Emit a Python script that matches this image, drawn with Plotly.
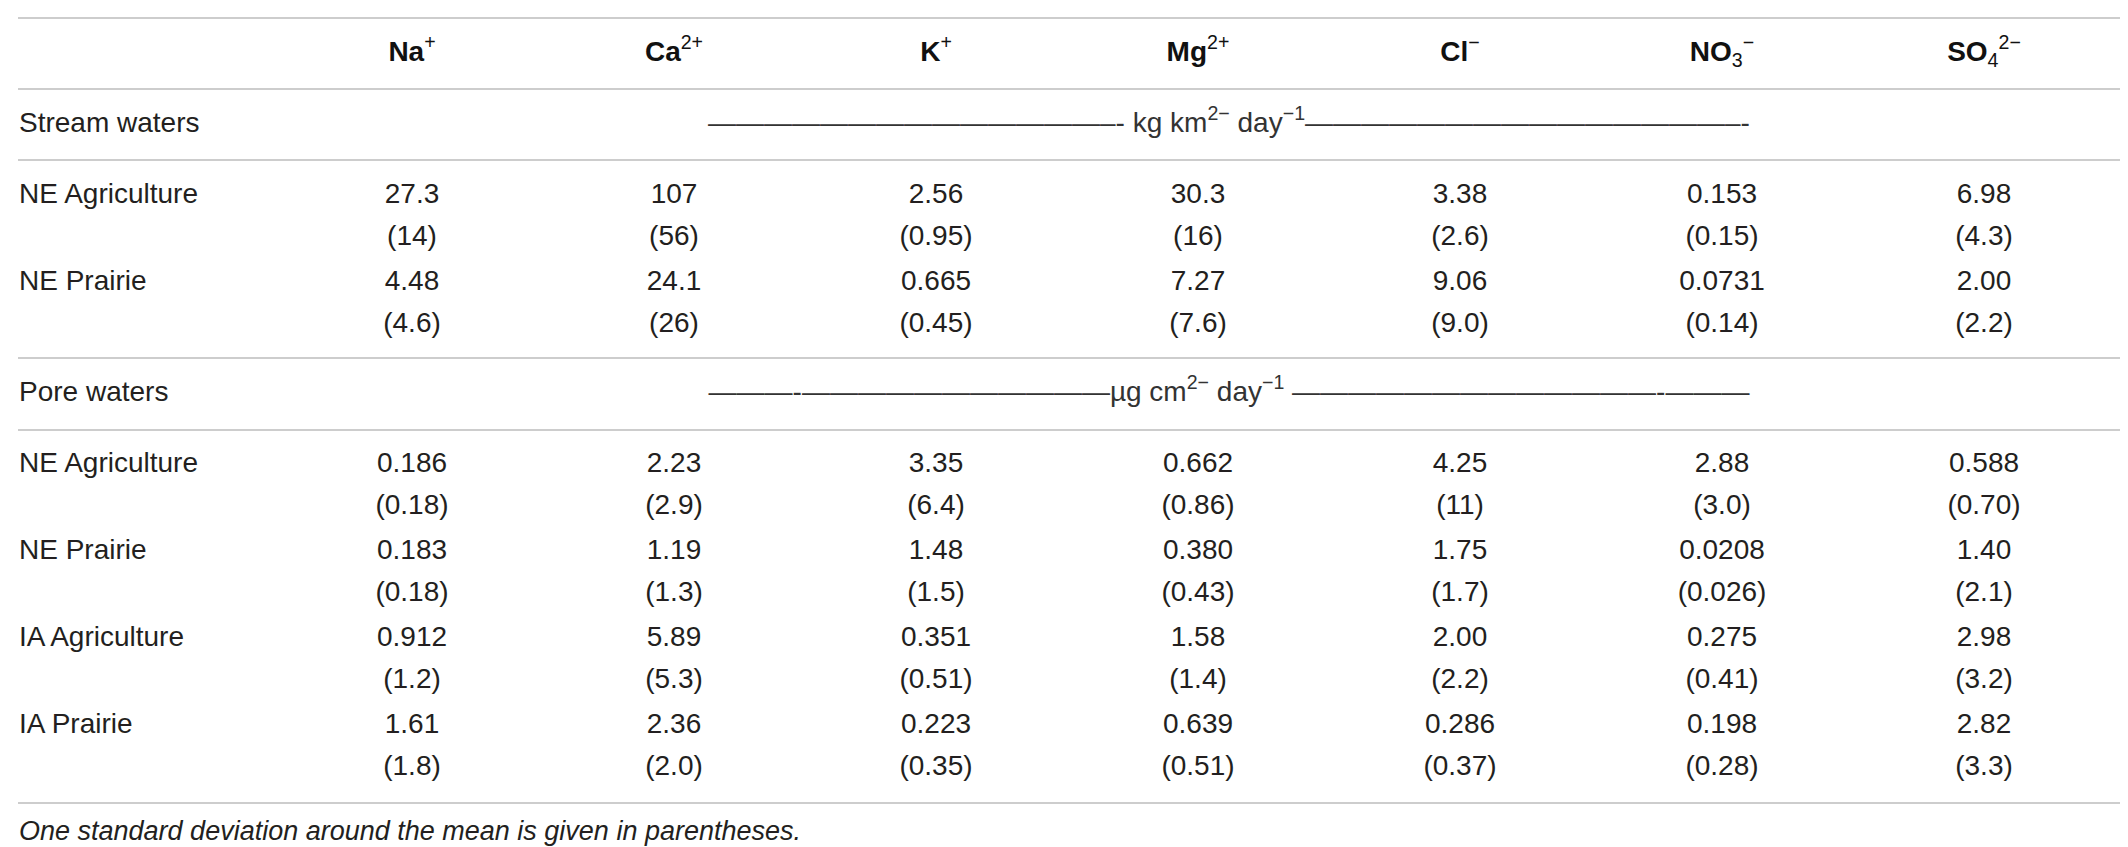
import plotly.graph_objects as go

# table content
ions = ["Na<sup>+</sup>", "Ca<sup>2+</sup>", "K<sup>+</sup>", "Mg<sup>2+</sup>",
        "Cl<sup>−</sup>", "NO<sub>3</sub><sup>−</sup>", "SO<sub>4</sub><sup>2−</sup>"]

stream_sites = ["NE Agriculture", "NE Prairie"]
pore_sites = ["NE Agriculture", "NE Prairie", "IA Agriculture", "IA Prairie"]

stream_ne_ag_mean = ["27.3", "107", "2.56", "30.3", "3.38", "0.153", "6.98"]
stream_ne_ag_sd = ["14", "56", "0.95", "16", "2.6", "0.15", "4.3"]
stream_ne_pr_mean = ["4.48", "24.1", "0.665", "7.27", "9.06", "0.0731", "2.00"]
stream_ne_pr_sd = ["4.6", "26", "0.45", "7.6", "9.0", "0.14", "2.2"]

pore_ne_ag_mean = ["0.186", "2.23", "3.35", "0.662", "4.25", "2.88", "0.588"]
pore_ne_ag_sd = ["0.18", "2.9", "6.4", "0.86", "11", "3.0", "0.70"]
pore_ne_pr_mean = ["0.183", "1.19", "1.48", "0.380", "1.75", "0.0208", "1.40"]
pore_ne_pr_sd = ["0.18", "1.3", "1.5", "0.43", "1.7", "0.026", "2.1"]
pore_ia_ag_mean = ["0.912", "5.89", "0.351", "1.58", "2.00", "0.275", "2.98"]
pore_ia_ag_sd = ["1.2", "5.3", "0.51", "1.4", "2.2", "0.41", "3.2"]
pore_ia_pr_mean = ["1.61", "2.36", "0.223", "0.639", "0.286", "0.198", "2.82"]
pore_ia_pr_sd = ["1.8", "2.0", "0.35", "0.51", "0.37", "0.28", "3.3"]

stream_units = ("——————————————–- kg km<sup>2−</sup> day<sup>−1</sup>"
                "———————————————–-")
pore_units = ("———-———————————µg cm<sup>2−</sup> day<sup>−1</sup> "
              "—————————————-———")
footnote = "One standard deviation around the mean is given in parentheses."

stream_rows = [(stream_ne_ag_mean, stream_ne_ag_sd), (stream_ne_pr_mean, stream_ne_pr_sd)]
pore_rows = [(pore_ne_ag_mean, pore_ne_ag_sd), (pore_ne_pr_mean, pore_ne_pr_sd),
             (pore_ia_ag_mean, pore_ia_ag_sd), (pore_ia_pr_mean, pore_ia_pr_sd)]

# layout in pixels
W, H = 2128, 847
col_x = [404 + 262 * i for i in range(len(ions))]
left_x = 11
rule_y = [10, 81, 152, 350, 422, 795]
header_y = 46
stream_label_y = 117
pore_label_y = 386
row_gap = 87
sd_gap = 42
stream_first = 188
pore_first = 457
units_x = 1221
footnote_y = 825

FONT = "Liberation Sans"
TXT = "#231f20"
FS = 28

fig = go.Figure()

# header: bold symbol, regular-weight charge
def header_label(s):
    i = s.find("<")
    return "<b>%s</b>%s" % (s[:i], s[i:]) if i > 0 else "<b>%s</b>" % s

fig.add_trace(go.Scatter(x=col_x, y=[header_y] * len(ions), mode="text",
                         text=[header_label(s) for s in ions],
                         textfont=dict(family=FONT, size=FS, color="#111111"),
                         hoverinfo="skip"))

def add_block(sites, rows, first_y):
    for i, (site, (mean, sd)) in enumerate(zip(sites, rows)):
        y0 = first_y + i * row_gap
        fig.add_trace(go.Scatter(x=[left_x], y=[y0], mode="text", text=[site],
                                 textposition="middle right",
                                 textfont=dict(family=FONT, size=FS, color=TXT),
                                 hoverinfo="skip"))
        fig.add_trace(go.Scatter(x=col_x, y=[y0] * len(mean), mode="text", text=mean,
                                 textfont=dict(family=FONT, size=FS, color=TXT),
                                 hoverinfo="skip"))
        fig.add_trace(go.Scatter(x=col_x, y=[y0 + sd_gap] * len(sd), mode="text",
                                 text=["(%s)" % v for v in sd],
                                 textfont=dict(family=FONT, size=FS, color=TXT),
                                 hoverinfo="skip"))

# section labels and units
fig.add_trace(go.Scatter(x=[left_x, left_x], y=[stream_label_y, pore_label_y], mode="text",
                         text=["Stream waters", "Pore waters"], textposition="middle right",
                         textfont=dict(family=FONT, size=FS, color=TXT), hoverinfo="skip"))
fig.add_trace(go.Scatter(x=[units_x, units_x], y=[stream_label_y, pore_label_y], mode="text",
                         text=[stream_units, pore_units],
                         textfont=dict(family=FONT, size=FS, color="#333333"), hoverinfo="skip"))

add_block(stream_sites, stream_rows, stream_first)
add_block(pore_sites, pore_rows, pore_first)

fig.add_trace(go.Scatter(x=[left_x], y=[footnote_y], mode="text", text=["<i>%s</i>" % footnote],
                         textposition="middle right",
                         textfont=dict(family=FONT, size=27, color=TXT), hoverinfo="skip"))

for y in rule_y:
    fig.add_shape(type="line", x0=10, x1=2116, y0=y, y1=y, xref="x", yref="y",
                  line=dict(color="#bdbdbd", width=1.5))

fig.update_xaxes(range=[0, W], visible=False, fixedrange=True)
fig.update_yaxes(range=[H, 0], visible=False, fixedrange=True)
fig.update_layout(width=W, height=H, margin=dict(l=0, r=0, t=0, b=0),
                  plot_bgcolor="white", paper_bgcolor="white", showlegend=False)

fig.write_html("out.html")
